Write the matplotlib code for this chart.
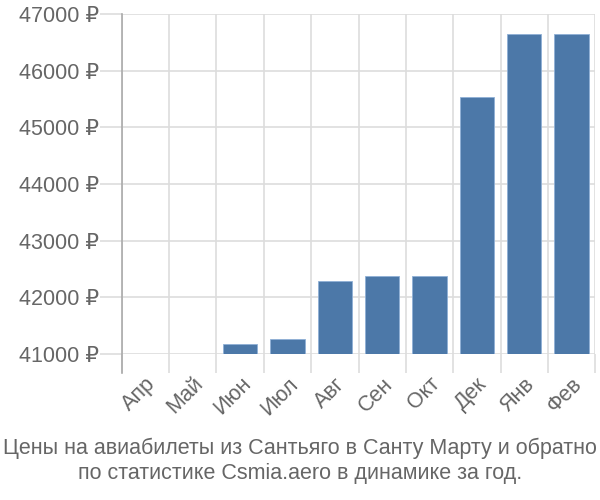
import numpy as np
import matplotlib.pyplot as plt

plt.rcParams['font.family'] = ['Liberation Sans', 'DejaVu Sans']

# months and prices (rubles); Апр and Май have no bar above the axis
months = ['Апр', 'Май', 'Июн', 'Июл', 'Авг', 'Сен', 'Окт', 'Дек', 'Янв', 'Фев']
prices = [np.nan, np.nan, 41180, 41270, 42290, 42385, 42385, 45540, 46640, 46640]
yticks = [41000, 42000, 43000, 44000, 45000, 46000, 47000]

title = ('Цены на авиабилеты из Сантьяго в Санту Марту и обратно\n'
         'по статистике Csmia.aero в динамике за год.')

grid_c = '#dddddd'
text_c = '#666666'

fig = plt.figure(figsize=(6, 5), dpi=100)
ax = fig.add_axes([0.203, 0.292, 0.789, 0.68])

x = np.arange(len(months))
ax.bar(x, prices, width=0.72, color='#4c78a8', edgecolor='#8fb0d6',
       linewidth=0.6, zorder=3)

ax.set_xlim(-0.5, len(months) - 0.5)
ax.set_ylim(41000, 47000)

# boundaries between months as major ticks (gridlines), names on minor ticks
ax.set_xticks(np.arange(len(months) + 1) - 0.5)
ax.set_xticklabels([])
ax.set_xticks(x, minor=True)
ax.set_xticklabels(months, minor=True, rotation=45, ha='right', va='top',
                   rotation_mode='anchor', fontsize=15.5, color=text_c)
ax.tick_params(axis='x', which='major', length=14, color=grid_c, width=1.2)
ax.tick_params(axis='x', which='minor', length=0, pad=14)

ax.set_yticks(yticks)
ax.set_yticklabels([f'{v} ₽' for v in yticks], fontsize=15.5, color=text_c)
ax.tick_params(axis='y', length=15.5, color=grid_c, width=1.2, pad=1)

ax.grid(True, color=grid_c, linewidth=1.2, zorder=0)
for s in ['top', 'right', 'bottom']:
    ax.spines[s].set_visible(False)
ax.spines['left'].set_color('#aaaaaa')
ax.spines['left'].set_linewidth(1.2)
ax.spines['left'].set_bounds(40660, 47000)
ax.spines['left'].set_clip_on(False)

fig.text(0.5, 0.079, title, ha='center', va='center', fontsize=15.5,
         color=text_c, linespacing=1.25)

fig.savefig('out.png', dpi=100)
